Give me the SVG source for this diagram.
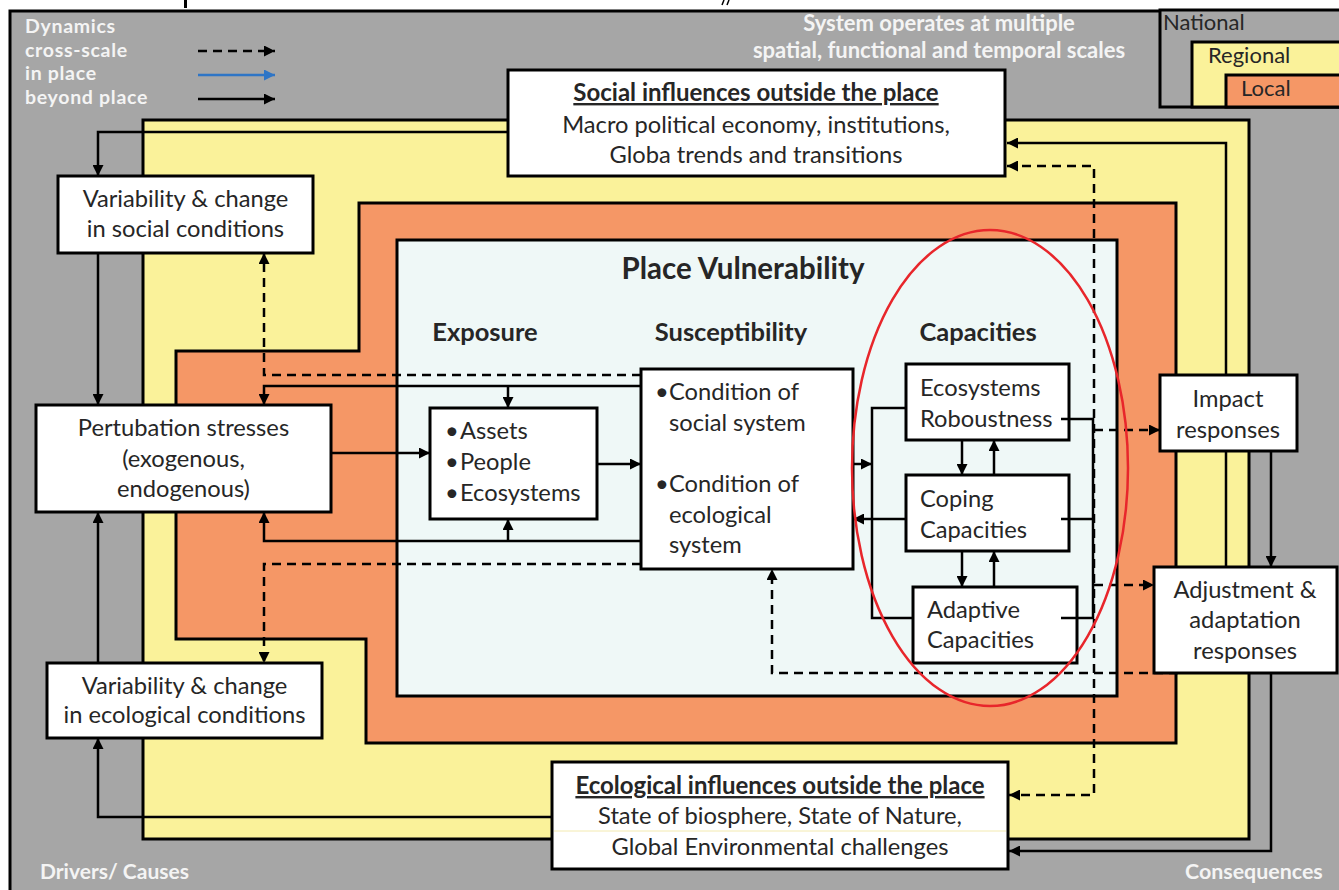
<svg xmlns="http://www.w3.org/2000/svg" width="1339" height="890" viewBox="0 0 1339 890">
  <defs>
    <style>
      .zone { stroke: #000; stroke-width: 3; }
      .box { fill: #fff; stroke: #000; stroke-width: 3; }
      .t { font-family: Lato, "Liberation Sans", sans-serif; font-size: 23.7px; fill: #262626; }
      .c { text-anchor: middle; }
      .b { font-weight: bold; font-size: 24px; }
      .hd { font-family: Lato, "Liberation Sans", sans-serif; font-size: 25.5px; font-weight: bold; fill: #262626; text-anchor: middle; }
      .wl { font-family: Lato, "Liberation Sans", sans-serif; font-size: 22px; font-weight: bold; fill: #f4f4f4; }
      .key { font-size: 19.5px; letter-spacing: 0.7px; }
      .ln { fill: none; stroke: #000; stroke-width: 2.5; }
      .ds { stroke-dasharray: 9 6; }
      .ar { marker-end: url(#ah); }
    </style>
    <marker id="ah" viewBox="0 0 10 10" refX="10" refY="5" markerWidth="11" markerHeight="11" markerUnits="userSpaceOnUse" orient="auto-start-reverse">
      <path d="M0,0 L10,5 L0,10 z" fill="#000"/>
    </marker>
    <marker id="ahb" viewBox="0 0 10 10" refX="10" refY="5" markerWidth="11" markerHeight="11" markerUnits="userSpaceOnUse" orient="auto">
      <path d="M0,0 L10,5 L0,10 z" fill="#2e75c6"/>
    </marker>
  </defs>

  <rect width="1339" height="890" fill="#fff"/>

  <!-- marks of the heading above, cut by the frame -->
  <rect x="184" y="0" width="3" height="8" fill="#000"/>
  <path d="M724,0 L722,5 M729,0 L727,5" stroke="#000" stroke-width="1.5"/>

  <!-- national scale -->
  <rect x="10" y="11" width="1340" height="890" fill="#a6a6a6" class="zone"/>

  <!-- regional scale -->
  <rect x="143" y="120" width="1106" height="719" fill="#faf29a" class="zone"/>

  <!-- local scale -->
  <path d="M359,203 H1176 V743 H366 V639 H176 V351 H359 Z" fill="#f59766" class="zone"/>

  <!-- place -->
  <rect x="397" y="240" width="720" height="456" fill="#eff8f7" class="zone"/>

  <!-- scale key -->
  <g id="scale-key">
    <rect x="1160" y="10" width="200" height="97" fill="#a6a6a6" class="zone"/>
    <rect x="1192" y="42" width="200" height="65" fill="#faf29a" class="zone"/>
    <rect x="1226" y="75" width="200" height="32" fill="#f59766" class="zone"/>
    <text x="1163" y="30" class="t" style="font-size:22px">National</text>
    <text x="1208" y="63" class="t" style="font-size:22px">Regional</text>
    <text x="1241" y="96" class="t" style="font-size:22px">Local</text>
  </g>

  <!-- line key -->
  <g id="line-key">
    <text x="25" y="33" class="wl key">Dynamics</text>
    <text x="25" y="56.5" class="wl key">cross-scale</text>
    <text x="25" y="80" class="wl key">in place</text>
    <text x="25" y="103.5" class="wl key">beyond place</text>
    <path d="M198,51 H275" class="ln ds ar"/>
    <path d="M198,75 H275" class="ln" style="stroke:#2e75c6" marker-end="url(#ahb)"/>
    <path d="M198,99 H275" class="ln ar"/>
  </g>

  <g id="scale-note">
    <text x="939" y="31" class="wl" text-anchor="middle">System operates at multiple</text>
    <text x="939" y="58" class="wl" text-anchor="middle">spatial, functional and temporal scales</text>
  </g>

  <text x="40" y="879" class="wl" style="font-size:21px">Drivers/ Causes</text>
  <text x="1185" y="879" class="wl" style="font-size:21.4px">Consequences</text>

  <!-- section headings -->
  <text x="743" y="279" class="hd" style="font-size:29.5px">Place Vulnerability</text>
  <text x="485" y="341" class="hd">Exposure</text>
  <text x="731" y="341" class="hd">Susceptibility</text>
  <text x="978" y="341" class="hd">Capacities</text>

  <!-- connectors -->
  <g id="connectors">
    <path d="M508,132 H98 V176" class="ln ar"/>
    <path d="M98,253 V405" class="ln ar"/>
    <path d="M98,663 V512" class="ln ar"/>
    <path d="M552,817 H98 V738" class="ln ar"/>
    <path d="M641,375 H264 V253" class="ln ds ar"/>
    <path d="M641,386 H264 V405" class="ln ar"/>
    <path d="M508,386 V408" class="ln ar"/>
    <path d="M331,453 H430" class="ln ar"/>
    <path d="M641,541 H264 V512" class="ln ar"/>
    <path d="M508,541 V519" class="ln ar"/>
    <path d="M641,564 H264 V663" class="ln ds ar"/>
    <path d="M597,464 H641" class="ln ar"/>
    <path d="M853,464 H872" class="ln ar"/>
    <path d="M906,408 H872 V618 H913" class="ln"/>
    <path d="M906,519 H853" class="ln ar"/>
    <path d="M962,440 V475" class="ln ar"/>
    <path d="M994,475 V440" class="ln ar"/>
    <path d="M962,551 V587" class="ln ar"/>
    <path d="M994,587 V551" class="ln ar"/>
    <path d="M1061,419 H1093 V618 H1061 M1061,519 H1093" class="ln"/>
    <path d="M1094,430 H1160" class="ln ds ar"/>
    <path d="M1094,585 H1154" class="ln ds ar"/>
    <path d="M1007,166 H1094 V795 H1009" class="ln ds ar" marker-start="url(#ah)"/>
    <path d="M1178,673 H772 V569" class="ln ds ar"/>
    <path d="M1226,567 V143 H1007" class="ln ar"/>
    <path d="M1271,451 V567" class="ln ar"/>
    <path d="M1271,673 V851 H1009" class="ln ar"/>
  </g>

  <!-- nodes -->
  <g id="social-influences">
    <rect x="508" y="70" width="497" height="106" class="box"/>
    <text x="756" y="101" class="t c b" text-decoration="underline">Social influences outside the place</text>
    <text x="756" y="133" class="t c">Macro political economy, institutions,</text>
    <text x="756" y="163" class="t c">Globa trends and transitions</text>
  </g>

  <g id="ecological-influences">
    <rect x="552" y="762" width="456" height="107" class="box"/>
    <line x1="554" y1="831" x2="1006" y2="831" stroke="#f3eab0" stroke-width="1"/>
    <text x="780" y="794" class="t c b" text-decoration="underline">Ecological influences outside the place</text>
    <text x="780" y="824" class="t c">State of biosphere, State of Nature,</text>
    <text x="780" y="855" class="t c">Global Environmental challenges</text>
  </g>

  <g id="social-variability">
    <rect x="58" y="176" width="255" height="77" class="box"/>
    <text x="185.5" y="207" class="t c">Variability &amp; change</text>
    <text x="185.5" y="237" class="t c">in social conditions</text>
  </g>

  <g id="perturbation">
    <rect x="36" y="405" width="295" height="107" class="box"/>
    <text x="183.5" y="436" class="t c">Pertubation stresses</text>
    <text x="183.5" y="467" class="t c">(exogenous,</text>
    <text x="183.5" y="497" class="t c">endogenous)</text>
  </g>

  <g id="ecological-variability">
    <rect x="47" y="663" width="275" height="75" class="box"/>
    <text x="184.5" y="694" class="t c">Variability &amp; change</text>
    <text x="184.5" y="723" class="t c">in ecological conditions</text>
  </g>

  <g id="exposure">
    <rect x="430" y="408" width="167" height="111" class="box"/>
    <text x="445" y="439" class="t">•</text><text x="460" y="439" class="t">Assets</text>
    <text x="445" y="470" class="t">•</text><text x="460" y="470" class="t">People</text>
    <text x="445" y="501" class="t">•</text><text x="460" y="501" class="t">Ecosystems</text>
  </g>

  <g id="susceptibility">
    <rect x="641" y="369" width="212" height="200" class="box"/>
    <text x="655" y="400" class="t">•</text><text x="669" y="400" class="t">Condition of</text>
    <text x="669" y="431" class="t">social system</text>
    <text x="655" y="492" class="t">•</text><text x="669" y="492" class="t">Condition of</text>
    <text x="669" y="523" class="t">ecological</text>
    <text x="669" y="553" class="t">system</text>
  </g>

  <g id="robustness">
    <rect x="906" y="364" width="163" height="76" class="box"/>
    <text x="920" y="396" class="t">Ecosystems</text>
    <text x="920" y="427" class="t">Roboustness</text>
  </g>

  <g id="coping">
    <rect x="906" y="475" width="163" height="76" class="box"/>
    <text x="920" y="507" class="t">Coping</text>
    <text x="920" y="538" class="t">Capacities</text>
  </g>

  <g id="adaptive">
    <rect x="913" y="587" width="164" height="76" class="box"/>
    <text x="927" y="618" class="t">Adaptive</text>
    <text x="927" y="648" class="t">Capacities</text>
  </g>

  <!-- right-hand stubs reach into the capacity boxes -->
  <path d="M1061,419 H1069 M1061,519 H1069 M1061,618 H1077" class="ln"/>

  <g id="impact">
    <rect x="1160" y="375" width="137" height="76" class="box"/>
    <text x="1228" y="407" class="t c">Impact</text>
    <text x="1228" y="438" class="t c">responses</text>
  </g>

  <g id="adjustment">
    <rect x="1154" y="567" width="183" height="106" class="box"/>
    <text x="1245" y="598" class="t c">Adjustment &amp;</text>
    <text x="1245" y="628" class="t c">adaptation</text>
    <text x="1245" y="659" class="t c">responses</text>
  </g>

  <!-- capacities highlight -->
  <ellipse cx="990" cy="468" rx="138" ry="238" fill="none" stroke="#e8262b" stroke-width="2.5"/>
</svg>
